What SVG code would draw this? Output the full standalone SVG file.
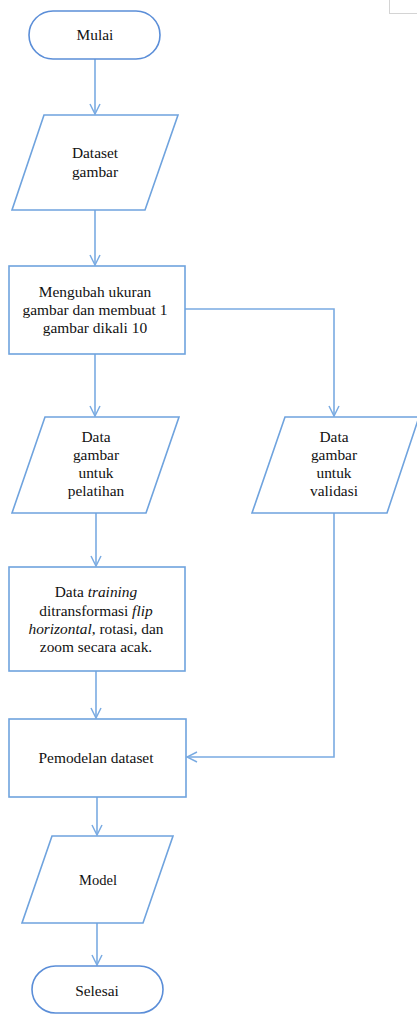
<svg xmlns="http://www.w3.org/2000/svg" width="417" height="1014" viewBox="0 0 417 1014">
<defs>
<style>
.sh{fill:#fff;stroke:#6fa3de;stroke-width:1.6}
.term{fill:#fff;stroke:#5b8ed8;stroke-width:1.6}
.ln{fill:none;stroke:#7aabe2;stroke-width:1.6}
</style>
<marker id="ah" viewBox="0 0 12 12" refX="11" refY="6" markerWidth="12" markerHeight="12" markerUnits="userSpaceOnUse" orient="auto">
<path d="M1,1 L11,6 L1,11" fill="none" stroke="#7aabe2" stroke-width="1.5"/>
</marker>
</defs>
<rect x="389.5" y="-2" width="40" height="15.5" fill="none" stroke="#d4d4d4" stroke-width="1"/>
<g id="connectors">
<path class="ln" d="M95,59 V114" marker-end="url(#ah)"/>
<path class="ln" d="M95,210 V265" marker-end="url(#ah)"/>
<path class="ln" d="M95,354 V416" marker-end="url(#ah)"/>
<path class="ln" d="M185,309 H334 V416" marker-end="url(#ah)"/>
<path class="ln" d="M96,513 V566" marker-end="url(#ah)"/>
<path class="ln" d="M96,671 V718" marker-end="url(#ah)"/>
<path class="ln" d="M334,513 V757 H187" marker-end="url(#ah)"/>
<path class="ln" d="M97,797 V835" marker-end="url(#ah)"/>
<path class="ln" d="M97,923 V965" marker-end="url(#ah)"/>
</g>
<g fill="#111" text-anchor="middle" font-size="15.4">
<g id="mulai">
<rect class="term" x="29" y="11" width="131" height="48" rx="24"/>
<text x="95" y="40" font-family="Liberation Serif">Mulai</text>
</g>
<g id="dataset">
<polygon class="sh" points="44,115 178,115 145,210 12,210"/>
<text x="95" y="158" font-family="Liberation Serif">Dataset</text>
<text x="95" y="177" font-family="Liberation Serif">gambar</text>
</g>
<g id="ubah">
<rect class="sh" x="9" y="266" width="176" height="88"/>
<text x="95" y="297" font-family="Liberation Serif">Mengubah ukuran</text>
<text x="95" y="315" font-family="Liberation Serif">gambar dan membuat 1</text>
<text x="95" y="333" font-family="Liberation Serif">gambar dikali 10</text>
</g>
<g id="latih">
<polygon class="sh" points="45,417 179,417 146,513 12,513"/>
<text x="96" y="442" font-family="Liberation Serif">Data</text>
<text x="96" y="460" font-family="Liberation Serif">gambar</text>
<text x="96" y="478" font-family="Liberation Serif">untuk</text>
<text x="96" y="496" font-family="Liberation Serif">pelatihan</text>
</g>
<g id="validasi">
<polygon class="sh" points="285,417 419,417 387,513 252,513"/>
<text x="334" y="442" font-family="Liberation Serif">Data</text>
<text x="334" y="460" font-family="Liberation Serif">gambar</text>
<text x="334" y="478" font-family="Liberation Serif">untuk</text>
<text x="334" y="496" font-family="Liberation Serif">validasi</text>
</g>
<g id="transform">
<rect class="sh" x="9" y="567" width="176" height="104"/>
<text x="96" y="597" font-family="Liberation Serif">Data <tspan font-style="italic">training</tspan></text>
<text x="96" y="616" font-family="Liberation Serif">ditransformasi <tspan font-style="italic">flip</tspan></text>
<text x="96" y="634" font-family="Liberation Serif"><tspan font-style="italic">horizontal</tspan>, rotasi, dan</text>
<text x="96" y="652" font-family="Liberation Serif">zoom secara acak.</text>
</g>
<g id="pemodelan">
<rect class="sh" x="9" y="719" width="177" height="78"/>
<text x="96" y="763" font-family="Liberation Serif">Pemodelan dataset</text>
</g>
<g id="model">
<polygon class="sh" points="52,836 173,836 143,923 22,923"/>
<text x="98" y="885" font-family="Liberation Serif" font-size="14.5">Model</text>
</g>
<g id="selesai">
<rect class="term" x="32" y="966" width="131" height="47" rx="23.5"/>
<text x="97" y="996" font-family="Liberation Serif">Selesai</text>
</g>
</g>
</svg>
